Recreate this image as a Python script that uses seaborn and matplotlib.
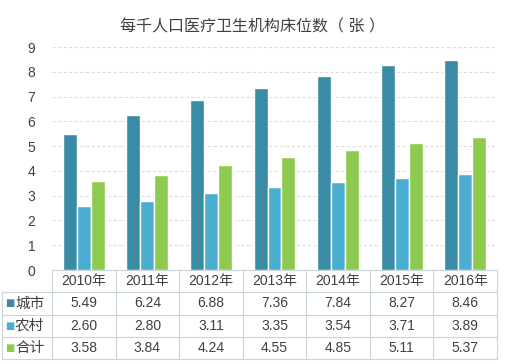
import matplotlib
matplotlib.use("Agg")
import matplotlib.pyplot as plt
import matplotlib.transforms as mtransforms
import seaborn as sns
import pandas as pd

years = ["2010年", "2011年", "2012年", "2013年", "2014年", "2015年", "2016年"]
series_names = ["城市", "农村", "合计"]
city = [5.49, 6.24, 6.88, 7.36, 7.84, 8.27, 8.46]
rural = [2.60, 2.80, 3.11, 3.35, 3.54, 3.71, 3.89]
total = [3.58, 3.84, 4.24, 4.55, 4.85, 5.11, 5.37]
title = "每千人口医疗卫生机构床位数（ 张 ）"
colors = ["#3A8BA5", "#4BADD0", "#8DCB4F"]

sns.set_theme(style="white")
plt.rcParams["font.family"] = ["Liberation Sans", "Noto Sans CJK SC", "DejaVu Sans"]
text_color = "#404040"

values = [city, rural, total]
df = pd.DataFrame({
    "year": [y for s in values for y in years],
    "series": [n for n, s in zip(series_names, values) for _ in s],
    "value": [v for s in values for v in s],
})

fig = plt.figure(figsize=(5.05, 3.64), dpi=100)
ax = fig.add_axes([52 / 505, 1 - 270 / 364, 445 / 505, 223 / 364])

sns.barplot(data=df, x="year", y="value", hue="series", order=years,
            hue_order=series_names, palette=colors, width=0.66, gap=0,
            saturation=1, ax=ax, legend=False)

ax.set_ylim(0, 9)
ax.set_xlim(-0.5, len(years) - 0.5)
ax.set_yticks(range(0, 10))
ax.set_yticklabels([str(i) for i in range(0, 10)], fontsize=10, color=text_color)
ax.tick_params(axis="y", length=0, pad=12)
ax.set_xticks([])
ax.set_xlabel("")
ax.set_ylabel("")
for sp in ax.spines.values():
    sp.set_visible(False)
ax.set_axisbelow(True)
ax.yaxis.grid(True, linestyle=(0, (3, 2)), color="#DEDEDE", linewidth=0.8)

fig.text(0.5, 1 - 27 / 364, title, ha="center", va="center", fontsize=11.5,
         color=text_color)

# data table beneath the plot
trans = mtransforms.blended_transform_factory(ax.transData, ax.transAxes)
row_h = 22.3 / 223
line_c = "#C9D3DA"
left_ax = -50 / 445
n = len(years)

# header row (years)
for i, y in enumerate(years):
    ax.text(i, -row_h / 2, y, transform=trans, ha="center", va="center",
            fontsize=10, color=text_color, clip_on=False)
# horizontal lines
ax.plot([-0.5, n - 0.5], [0, 0], transform=trans, color=line_c, lw=0.8, clip_on=False)
for r in range(1, 5):
    ax.plot([left_ax, 1], [-r * row_h, -r * row_h], transform=ax.transAxes,
            color=line_c, lw=0.8, clip_on=False)
# vertical lines
for i in range(n + 1):
    ax.plot([i - 0.5, i - 0.5], [0, -4 * row_h], transform=trans, color=line_c,
            lw=0.8, clip_on=False)
ax.plot([left_ax, left_ax], [-row_h, -4 * row_h], transform=ax.transAxes,
        color=line_c, lw=0.8, clip_on=False)

for r, (name, vals, c) in enumerate(zip(series_names, values, colors), start=1):
    yc = -(r + 0.5) * row_h
    ax.text(-42 / 445, yc, "■", transform=ax.transAxes, ha="center", va="center",
            fontsize=7, color=c, family=["DejaVu Sans"], clip_on=False)
    ax.text(-37 / 445, yc, name, transform=ax.transAxes, ha="left", va="center",
            fontsize=10.5, color=text_color, clip_on=False)
    for i, v in enumerate(vals):
        ax.text(i, yc, f"{v:.2f}", transform=trans, ha="center", va="center",
                fontsize=10, color=text_color, clip_on=False)

fig.savefig("out.png", dpi=100, facecolor="white")
